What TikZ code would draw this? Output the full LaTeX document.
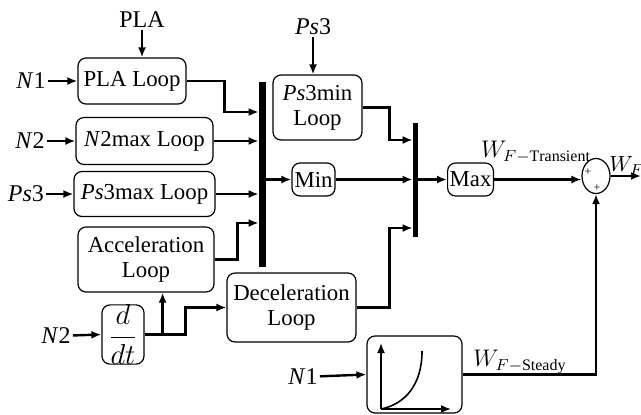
\documentclass[tikz,border=0pt]{standalone}
\usepackage{amsmath}
\usepackage{fontspec}
\setmainfont{Liberation Serif}
\usetikzlibrary{arrows.meta,positioning,calc,shapes.geometric}
\tikzset{
  >={Latex[length=5pt,width=4pt]},
  loopbox/.style={draw, rounded corners=4pt, line width=0.6pt, align=center,
                  inner sep=1pt, font=\fontsize{11.4}{12.6}\selectfont},
  sigline/.style={->, line width=1.2pt},
  busbar/.style={fill=black, inner sep=0pt},
  inlabel/.style={inner sep=1pt, font=\fontsize{12}{13}\selectfont},
  plusmark/.style={inner sep=0pt, font=\fontsize{6}{6}\selectfont},
}

\begin{document}
\begin{tikzpicture}[x=0.5pt,y=-0.5pt]
  \useasboundingbox (0,0) rectangle (641,414);
  % limiter loops, left column
  \node[loopbox, minimum width=54pt, minimum height=23pt] (pla) at (132,81) {PLA Loop};
  \node[loopbox, minimum width=68.5pt, minimum height=23.5pt] (n2max) at (144.5,141) {\textit{N}2max Loop};
  \node[loopbox, minimum width=70.5pt, minimum height=22.5pt] (ps3max) at (144.5,194) {\textit{Ps}3max Loop};
  \node[loopbox, minimum width=68pt, minimum height=32.5pt] (accel) at (146,259.5) {Acceleration\\Loop};
  \node[loopbox, minimum width=21pt, minimum height=26.5pt, inner sep=0pt] (ddt) at (123,334.5)
    {\fontsize{13.5}{13.5}\selectfont$\dfrac{d}{dt}$};
  \node[loopbox, minimum width=64.5pt, minimum height=34.5pt] (decel) at (291.5,307.5) {Deceleration\\Loop};
  % selectors
  \node[loopbox, minimum width=44.5pt, minimum height=32.5pt] (ps3min) at (317.5,107.5) {\textit{Ps}3min\\Loop};
  \node[loopbox, minimum width=21.5pt, minimum height=16.5pt] (minsel) at (313.5,179.5) {Min};
  \node[loopbox, minimum width=22.5pt, minimum height=16.5pt] (maxsel) at (470.5,179.5) {Max};
  \node[busbar, minimum width=3.5pt, minimum height=92.5pt] (bar1) at (262.5,174.5) {};
  \node[busbar, minimum width=2.5pt, minimum height=57pt] (bar2) at (415.5,180) {};
  % summing junction and steady schedule
  \node[draw, ellipse, line width=0.6pt, minimum width=14pt, minimum height=17.5pt, inner sep=0pt] (sum) at (596,176) {};
  \node[plusmark] at (588,172) {+};
  \node[plusmark] at (597,188) {+};
  \node[loopbox, minimum width=47.5pt, minimum height=38.5pt] (steady) at (414.5,374.5) {};
  \draw[->, line width=0.8pt] (381,409) -- (381,343);
  \draw[->, line width=0.8pt] (381,409) -- (451,409);
  \draw[line width=0.8pt] (381,409) .. controls (405,404) and (422,385) .. (422,351);
  % inputs and outputs
  \node[inlabel] (plain) at (142,20) {PLA};
  \node[inlabel] (n1a) at (31,81) {\textit{N}1};
  \node[inlabel] (n2a) at (30,141) {\textit{N}2};
  \node[inlabel] (ps3a) at (26,194) {\textit{Ps}3};
  \node[inlabel] (n2b) at (56,336) {\textit{N}2};
  \node[inlabel] (ps3b) at (313,27) {\textit{Ps}3};
  \node[inlabel] (n1b) at (303,377) {\textit{N}1};
  \node[inlabel] (wtr) at (536,152) {$W_{F-\mathrm{Transient}}$};
  \node[inlabel] (wst) at (520,362) {$W_{F-\mathrm{Steady}}$};
  \node[inlabel, anchor=west, font=\fontsize{11}{12}\selectfont] (wout) at (607,166) {$W_F$};
  \coordinate (out) at (641,176);
  \coordinate (tap) at ($(ddt.east)+(18,0)$);
  \draw[sigline] (plain) -- (plain |- pla.north);
  \draw[sigline] (ps3b) -- (ps3b |- ps3min.north);
  \draw[sigline] (n1a) -- (pla.west);
  \draw[sigline] (n2a) -- (n2max.west);
  \draw[sigline] (ps3a) -- (ps3max.west);
  \draw[sigline] (n2b) -- (ddt.west);
  \draw[sigline] (n1b) -- (steady.west);
  % into the min bus
  \draw[sigline] (pla.east) -- ++(38,0) |- (bar1.west |- 0,112);
  \draw[sigline] (n2max.east) -- (n2max.east -| bar1.west);
  \draw[sigline] (ps3max.east) -- (ps3max.east -| bar1.west);
  \draw[sigline] (accel.east) -- ++(23,0) |- (bar1.west |- 0,223);
  \draw[sigline] (bar1.east |- minsel.west) -- (minsel.west);
  % derivative feeds both rate loops
  \draw[sigline] (ddt.east) -- ++(41,0) |- (decel.west);
  \draw[sigline] (tap) -- (tap |- accel.south);
  % into the max bus
  \draw[sigline] (ps3min.east) -- ++(27,0) |- (bar2.west |- 0,140);
  \draw[sigline] (minsel.east) -- (minsel.east -| bar2.west);
  \draw[sigline] (decel.east) -- ++(33,0) |- (bar2.west |- 0,228);
  \draw[sigline] (bar2.east |- maxsel.west) -- (maxsel.west);
  \draw[sigline] (maxsel.east) -- (maxsel.east -| sum.west);
  \draw[sigline] (steady.east) -| (sum.south);
  \draw[sigline] (sum.east) -- (out);
\end{tikzpicture}
\end{document}
